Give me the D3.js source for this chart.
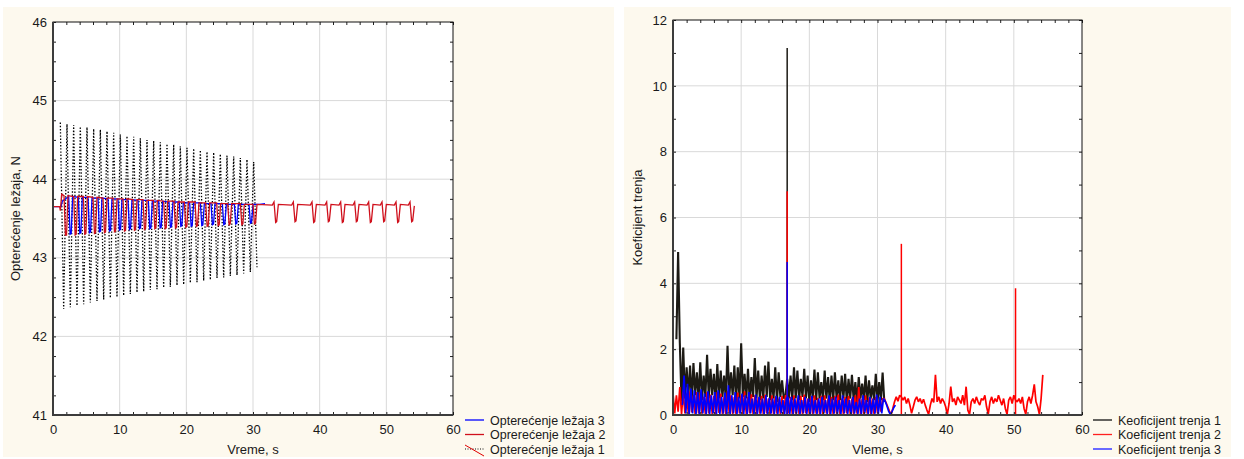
<!DOCTYPE html>
<html>
<head>
<meta charset="utf-8">
<script src="https://cdn.jsdelivr.net/npm/d3@7"></script>
<style>
body { margin: 0; background: #fff; }
svg text { font-family: "Liberation Sans", Arial, sans-serif; fill: #1a1a1a; }
</style>
</head>
<body>
<svg id="chart" width="1244" height="459"></svg>
<script>
// ---- left panel: bearing load, N ----
// series 1: dotted zigzag, peaks and troughs (one stroke every 0.5 s starting at 1.1 s)
var load1Start = 1.1, load1Step = 0.5;
var load1High = [44.72, 44.70, 44.69, 44.67, 44.66, 44.64, 44.63, 44.61, 44.59, 44.57,
                 44.55, 44.54, 44.52, 44.50, 44.49, 44.47, 44.45, 44.44, 44.42, 44.40,
                 44.39, 44.37, 44.35, 44.34, 44.32, 44.30, 44.29, 44.27, 44.25, 44.22];
var load1Low  = [42.35, 42.37, 42.39, 42.41, 42.43, 42.45, 42.47, 42.49, 42.50, 42.52,
                 42.54, 42.56, 42.57, 42.59, 42.60, 42.62, 42.63, 42.65, 42.66, 42.68,
                 42.69, 42.71, 42.72, 42.74, 42.75, 42.77, 42.78, 42.80, 42.82, 42.88];

// series 2 (red): [time, load]
var load2 = [[0.0,43.65],[1.0,43.65],[1.1,43.6],[1.3,43.81],
  [1.65,43.79],[1.87,43.29],[2.03,43.29],[2.25,43.79],
  [3.1,43.78],[3.32,43.29],[3.48,43.3],[3.7,43.78],
  [4.55,43.78],[4.77,43.3],[4.93,43.31],[5.15,43.78],
  [6.0,43.77],[6.22,43.31],[6.38,43.32],[6.6,43.77],
  [7.5,43.76],[7.72,43.32],[7.88,43.33],[8.1,43.76],
  [9.0,43.76],[9.22,43.33],[9.38,43.34],[9.6,43.75],
  [10.5,43.75],[10.72,43.34],[10.88,43.35],[11.1,43.75],
  [12.0,43.74],[12.22,43.35],[12.38,43.36],[12.6,43.74],
  [13.5,43.74],[13.72,43.36],[13.88,43.37],[14.1,43.73],
  [15.05,43.73],[15.27,43.37],[15.43,43.38],[15.65,43.73],
  [16.6,43.72],[16.82,43.37],[16.98,43.38],[17.2,43.72],
  [18.15,43.72],[18.37,43.38],[18.53,43.39],[18.75,43.71],
  [19.7,43.71],[19.92,43.39],[20.08,43.4],[20.3,43.71],
  [21.3,43.71],[21.52,43.4],[21.68,43.41],[21.9,43.7],
  [22.9,43.7],[23.12,43.4],[23.28,43.41],[23.5,43.7],
  [24.55,43.7],[24.77,43.41],[24.93,43.42],[25.15,43.69],
  [26.2,43.69],[26.42,43.42],[26.58,43.43],[26.8,43.69],
  [28.1,43.69],[28.32,43.42],[28.48,43.43],[28.7,43.68],
  [30.0,43.68],[30.22,43.43],[30.38,43.44],[30.6,43.68],
  [32.9,43.67],[33.15,43.71],[33.4,43.45],[33.55,43.46],[33.8,43.68],
  [35.8,43.67],[36.05,43.71],[36.3,43.46],[36.45,43.47],[36.7,43.68],
  [38.6,43.67],[38.85,43.71],[39.1,43.45],[39.25,43.46],[39.5,43.68],
  [40.8,43.67],[41.05,43.71],[41.3,43.46],[41.45,43.47],[41.7,43.68],
  [42.9,43.67],[43.15,43.71],[43.4,43.45],[43.55,43.46],[43.8,43.68],
  [45.0,43.67],[45.25,43.71],[45.5,43.46],[45.65,43.47],[45.9,43.68],
  [47.1,43.67],[47.35,43.71],[47.6,43.45],[47.75,43.46],[48.0,43.68],
  [49.1,43.67],[49.35,43.71],[49.6,43.46],[49.75,43.47],[50.0,43.68],
  [51.2,43.67],[51.45,43.71],[51.7,43.45],[51.85,43.46],[52.1,43.68],
  [53.3,43.67],[53.55,43.71],[53.8,43.46],[53.95,43.47],[54.2,43.66]];

// series 3 (blue): [time, load]
var load3 = [[0.0,43.65],[1.2,43.65],[1.4,43.72],
  [2.35,43.78],[2.57,43.3],[2.73,43.31],[2.95,43.78],
  [3.8,43.77],[4.02,43.31],[4.18,43.32],[4.4,43.77],
  [5.25,43.77],[5.47,43.32],[5.63,43.33],[5.85,43.76],
  [6.75,43.76],[6.97,43.33],[7.13,43.34],[7.35,43.76],
  [8.25,43.75],[8.47,43.34],[8.63,43.35],[8.85,43.75],
  [9.75,43.75],[9.97,43.35],[10.13,43.36],[10.35,43.74],
  [11.25,43.74],[11.47,43.36],[11.63,43.37],[11.85,43.74],
  [12.75,43.73],[12.97,43.37],[13.13,43.38],[13.35,43.73],
  [14.3,43.73],[14.52,43.37],[14.68,43.38],[14.9,43.72],
  [15.85,43.72],[16.07,43.38],[16.23,43.39],[16.45,43.72],
  [17.4,43.71],[17.62,43.39],[17.78,43.4],[18.0,43.71],
  [18.95,43.71],[19.17,43.4],[19.33,43.41],[19.55,43.7],
  [20.5,43.7],[20.72,43.4],[20.88,43.41],[21.1,43.7],
  [22.1,43.7],[22.32,43.41],[22.48,43.42],[22.7,43.69],
  [23.7,43.69],[23.92,43.42],[24.08,43.43],[24.3,43.69],
  [25.4,43.69],[25.62,43.42],[25.78,43.43],[26.0,43.68],
  [27.2,43.68],[27.42,43.43],[27.58,43.44],[27.8,43.68],
  [29.4,43.68],[29.62,43.44],[29.78,43.45],[30.0,43.68],
  [31.0,43.68],[31.8,43.69]];

// ---- right panel: friction coefficient (sampled every 0.25 s) ----
var frictionStep = 0.25;
var friction1Start = 0.5;
var friction1 = [2.3, 4.95, 2.2, 0.4, 2.05, 0.5, 1.45, 0.55, 1.5, 0.45, 1.58, 0.6,
  1.3, 0.5, 1.6, 0.45, 1.2, 0.55, 1.83, 0.5, 1.4, 0.6, 1.25, 0.45,
  1.55, 0.5, 1.35, 0.55, 1.2, 0.45, 2.1, 0.5, 1.3, 0.6, 1.5, 0.4,
  1.45, 0.5, 2.18, 0.55, 1.25, 0.5, 1.4, 0.45, 1.15, 0.55, 1.73, 0.5,
  1.35, 0.45, 1.2, 0.5, 1.5, 0.55, 1.62, 0.45, 1.1, 0.5, 1.45, 0.4,
  1.3, 0.55, 1.05, 0.5, 0.6, 1.1, 0.5, 1.2, 0.45, 1.45, 0.5, 1.35,
  0.45, 1.1, 0.55, 1.4, 0.5, 1.2, 0.4, 1.05, 0.5, 1.38, 0.45, 1.3,
  0.5, 1.0, 0.45, 1.35, 0.5, 1.15, 0.4, 1.2, 0.45, 1.3, 0.5, 1.05,
  0.45, 1.2, 0.5, 1.25, 0.4, 1.1, 0.5, 1.22, 0.45, 1.0, 0.4, 1.15,
  0.5, 0.95, 0.45, 1.2, 0.4, 1.05, 0.5, 0.9, 0.45, 1.25, 0.4, 1.0,
  0.45, 1.29, 0.4];
var friction1Peaks = [[16.75, 11.15]];

var friction2Start = 0;
var friction2 = [0.66, 0.05, 0.6, 0.1, 0.85, 0.02, 0.7, 0.05, 0.65, 0.03, 0.72, 0.08,
  0.6, 0.02, 0.7, 0.05, 0.68, 0.04, 0.55, 0.02, 0.7, 0.05, 0.62, 0.03,
  0.58, 0.02, 0.7, 0.06, 0.65, 0.03, 0.55, 0.02, 0.72, 0.05, 0.6, 0.03,
  0.55, 0.02, 0.68, 0.05, 0.6, 0.03, 0.72, 0.02, 0.55, 0.05, 0.63, 0.03,
  0.6, 0.02, 0.52, 0.04, 0.58, 0.03, 0.62, 0.05, 0.5, 0.02, 0.6, 0.03,
  0.55, 0.04, 0.5, 0.02, 0.58, 0.03, 0.6, 0.5, 0.05, 0.55, 0.02, 0.6,
  0.04, 0.5, 0.03, 0.58, 0.02, 0.62, 0.05, 0.5, 0.03, 0.55, 0.02, 0.6,
  0.04, 0.52, 0.03, 0.58, 0.02, 0.6, 0.05, 0.5, 0.03, 0.55, 0.02, 0.58,
  0.04, 0.62, 0.03, 0.5, 0.02, 0.55, 0.05, 0.58, 0.03, 0.5, 0.02, 0.6,
  0.04, 0.85, 0.03, 0.48, 0.02, 0.6, 0.04, 0.52, 0.03, 0.5, 0.02, 0.55,
  0.05, 0.45, 0.1, 0.5, 0.5, 0.38, 0.25, 0.12, 0.02, 0.2, 0.4, 0.55,
  0.42, 0.6, 0.55, 0.45, 0.55, 0.35, 0.5, 0.3, 0.05, 0.25, 0.45, 0.55,
  0.4, 0.5, 0.35, 0.48, 0.3, 0.15, 0.02, 0.3, 0.5, 0.38, 1.22, 0.4,
  0.55, 0.35, 0.5, 0.4, 0.25, 0.02, 0.35, 0.86, 0.4, 0.5, 0.3, 0.55,
  0.45, 0.35, 0.6, 0.3, 0.86, 0.15, 0.02, 0.4, 0.5, 0.35, 0.55, 0.4,
  0.3, 0.5, 0.45, 0.6, 0.25, 0.03, 0.4, 0.55, 0.35, 0.5, 0.4, 0.6,
  0.45, 0.3, 0.5, 0.2, 0.02, 0.45, 0.55, 0.35, 0.6, 0.45, 0.4, 0.5,
  0.35, 0.55, 0.2, 0.02, 0.4, 0.55, 0.35, 0.6, 0.93, 0.4, 0.25, 0.02,
  0.5, 1.22];
var friction2Peaks = [[16.75, 6.8], [33.5, 5.2], [50.25, 3.85]];

var friction3Start = 1.375;
var friction3 = [0.3, 1.2, 0.05, 0.95, 0.02, 0.8, 0.05, 0.75, 0.03, 0.7, 0.02, 0.78,
  0.05, 0.65, 0.02, 0.72, 0.03, 0.6, 0.05, 0.7, 0.02, 0.75, 0.03, 0.55,
  0.04, 0.68, 0.02, 0.9, 0.03, 0.6, 0.05, 0.7, 0.02, 0.55, 0.04, 0.65,
  0.03, 0.6, 0.02, 0.7, 0.05, 0.5, 0.03, 0.62, 0.02, 0.55, 0.04, 0.5,
  0.03, 0.6, 0.02, 0.52, 0.04, 0.5, 0.03, 0.58, 0.02, 0.55, 0.05, 0.45,
  0.03, 0.5, 0.55, 0.02, 0.55, 0.03, 0.5, 0.04, 0.6, 0.02, 0.45, 0.05,
  0.55, 0.03, 0.5, 0.02, 0.58, 0.04, 0.45, 0.03, 0.5, 0.02, 0.55, 0.05,
  0.45, 0.03, 0.6, 0.02, 0.5, 0.04, 0.55, 0.03, 0.45, 0.02, 0.6, 0.05,
  0.5, 0.03, 0.45, 0.02, 0.55, 0.04, 0.4, 0.03, 0.5, 0.02, 0.6, 0.05,
  0.45, 0.03, 0.55, 0.02, 0.5, 0.04, 0.62, 0.03, 0.55, 0.05, 0.5, 0.42,
  0.28, 0.12, 0.02, 0.1, 0.22, 0.3];
var friction3Peaks = [[16.75, 4.65]];

var xTicks = [0, 10, 20, 30, 40, 50, 60];
var loadTicks = [41, 42, 43, 44, 45, 46];
var frictionTicks = [0, 2, 4, 6, 8, 10, 12];

var svg = d3.select('#chart');

function sampled(start, values) {
    return values.map(function (v, i) { return [start + i * frictionStep, v]; });
}

function drawFrame(p) {
    var g = svg.append('g');
    g.append('rect')
        .attr('x', p.bg[0]).attr('y', 7)
        .attr('width', p.bg[1] - p.bg[0]).attr('height', 450)
        .attr('fill', '#fdf9ee');
    g.append('rect')
        .attr('x', p.x.range()[0]).attr('y', p.y.range()[1])
        .attr('width', p.x.range()[1] - p.x.range()[0])
        .attr('height', p.y.range()[0] - p.y.range()[1])
        .attr('fill', '#fff');

    // grid
    g.append('g').selectAll('line').data(p.xTicks.slice(1, -1)).join('line')
        .attr('x1', p.x).attr('x2', p.x)
        .attr('y1', p.y.range()[1]).attr('y2', p.y.range()[0])
        .attr('stroke', '#d9d9d9');
    g.append('g').selectAll('line').data(p.yTicks.slice(1, -1)).join('line')
        .attr('y1', p.y).attr('y2', p.y)
        .attr('x1', p.x.range()[0]).attr('x2', p.x.range()[1])
        .attr('stroke', '#d9d9d9');

    p.plot = svg.append('g').attr('clip-path', 'url(#' + p.id + ')');
    svg.append('clipPath').attr('id', p.id).append('rect')
        .attr('x', p.x.range()[0]).attr('y', p.y.range()[1])
        .attr('width', p.x.range()[1] - p.x.range()[0])
        .attr('height', p.y.range()[0] - p.y.range()[1]);
}

function drawAxes(p) {
    var x0 = p.x.range()[0], x1 = p.x.range()[1];
    var y0 = p.y.range()[0], y1 = p.y.range()[1];
    var g = svg.append('g');
    var xMinor = d3.range(0, 61, 2), yMinor = d3.range(p.y.domain()[0], p.y.domain()[1] + 0.001, p.yMinor);

    // inner ticks on all four sides
    g.append('g').attr('transform', 'translate(0,' + y0 + ')')
        .call(d3.axisBottom(p.x).tickValues(xMinor).tickSize(-3).tickFormat(''));
    g.append('g').attr('transform', 'translate(0,' + y1 + ')')
        .call(d3.axisTop(p.x).tickValues(xMinor).tickSize(-3).tickFormat(''));
    g.append('g').attr('transform', 'translate(' + x0 + ',0)')
        .call(d3.axisLeft(p.y).tickValues(yMinor).tickSize(-3).tickFormat(''));
    g.append('g').attr('transform', 'translate(' + x1 + ',0)')
        .call(d3.axisRight(p.y).tickValues(yMinor).tickSize(-3).tickFormat(''));
    g.selectAll('.domain').remove();
    g.selectAll('.tick line').attr('stroke', '#222');

    g.append('rect').attr('x', x0).attr('y', y1)
        .attr('width', x1 - x0).attr('height', y0 - y1)
        .attr('fill', 'none').attr('stroke', '#111').attr('stroke-width', 1);
    g.append('line').attr('x1', x0).attr('x2', x0).attr('y1', y1).attr('y2', y0 + 1)
        .attr('stroke', '#3c3c3c').attr('stroke-width', 2);
    g.append('line').attr('x1', x0 - 1).attr('x2', x1).attr('y1', y0).attr('y2', y0)
        .attr('stroke', '#3c3c3c').attr('stroke-width', 2);

    // labels
    var xa = svg.append('g').attr('transform', 'translate(0,' + y0 + ')')
        .call(d3.axisBottom(p.x).tickValues(p.xTicks).tickSize(0).tickPadding(10)
            .tickFormat(d3.format('d')));
    var ya = svg.append('g').attr('transform', 'translate(' + x0 + ',0)')
        .call(d3.axisLeft(p.y).tickValues(p.yTicks).tickSize(0).tickPadding(6)
            .tickFormat(d3.format('d')));
    [xa, ya].forEach(function (a) {
        a.select('.domain').remove();
        a.selectAll('text').style('font-size', '13px').attr('fill', '#1a1a1a')
            .style('font-family', '"Liberation Sans", Arial, sans-serif');
    });

    svg.append('text')
        .attr('x', (x0 + x1) / 2).attr('y', 454)
        .attr('text-anchor', 'middle').style('font-size', '13px')
        .text(p.xTitle);
    svg.append('text')
        .attr('transform', 'translate(' + p.yTitleX + ',' + ((y0 + y1) / 2) + ') rotate(-90)')
        .attr('text-anchor', 'middle').style('font-size', '13px')
        .text(p.yTitle);
}

function drawLegend(p) {
    var g = svg.append('g');
    p.legend.forEach(function (d, i) {
        var y = 420 + i * 14.5;
        var l = g.append('line')
            .attr('x1', p.legendX).attr('x2', p.legendX + 19)
            .attr('y1', y).attr('y2', y)
            .attr('stroke', d.color).attr('stroke-width', d.width || 1.3);
        if (d.dash) l.attr('stroke-dasharray', d.dash);
        if (d.slash) {
            g.append('line')
                .attr('x1', p.legendX).attr('x2', p.legendX + 19)
                .attr('y1', y - 4).attr('y2', y + 7)
                .attr('stroke', '#e00000').attr('stroke-width', 1);
        }
        g.append('text')
            .attr('x', p.legendX + 25).attr('y', y + 4.5)
            .style('font-size', '12.5px')
            .text(d.name);
    });
}

// ---- left panel ----
var left = {
    id: 'clipLeft',
    bg: [3, 614],
    x: d3.scaleLinear().domain([0, 60]).range([53, 453]),
    y: d3.scaleLinear().domain([41, 46]).range([415, 22]),
    xTicks: xTicks, yTicks: loadTicks, yMinor: 0.25,
    xTitle: 'Vreme, s', yTitle: 'Opterećenje ležaja, N', yTitleX: 20,
    legendX: 465,
    legend: [
        { name: 'Opterećenje ležaja 3', color: '#0000ff' },
        { name: 'Oprerećenje ležaja 2', color: '#d0101c' },
        { name: 'Opterećenje ležaja 1', color: '#111', dash: '1,1.5', width: 1, slash: true }
    ]
};
drawFrame(left);

var load1 = [];
load1High.forEach(function (h, i) {
    load1.push([load1Start + 2 * i * load1Step, h]);
    load1.push([load1Start + (2 * i + 1) * load1Step, load1Low[i]]);
});

var lineL = d3.line().x(function (d) { return left.x(d[0]); }).y(function (d) { return left.y(d[1]); });
left.plot.append('path').datum(load1).attr('d', lineL)
    .attr('fill', 'none').attr('stroke', '#000').attr('stroke-width', 1.3)
    .attr('stroke-dasharray', '1.4,1.8');
left.plot.append('path').datum(load3).attr('d', lineL)
    .attr('fill', 'none').attr('stroke', '#0000ff').attr('stroke-width', 1.3);
left.plot.append('path').datum(load2).attr('d', lineL)
    .attr('fill', 'none').attr('stroke', '#d0101c').attr('stroke-width', 1.3);
drawAxes(left);
drawLegend(left);

// ---- right panel ----
var right = {
    id: 'clipRight',
    bg: [624, 1231],
    x: d3.scaleLinear().domain([0, 60]).range([673, 1082]),
    y: d3.scaleLinear().domain([0, 12]).range([415, 20]),
    xTicks: xTicks, yTicks: frictionTicks, yMinor: 1,
    xTitle: 'Vleme, s', yTitle: 'Koeficijent trenja', yTitleX: 642,
    legendX: 1093,
    legend: [
        { name: 'Keoficijent trenja 1', color: '#111' },
        { name: 'Koeficijent trenja 2', color: '#ff2020' },
        { name: 'Koeficijent trenja 3', color: '#6a6aff', width: 2 }
    ]
};
drawFrame(right);

var lineR = d3.line().x(function (d) { return right.x(d[0]); }).y(function (d) { return right.y(d[1]); });
function drawFriction(start, values, peaks, color, width) {
    right.plot.append('path').datum(sampled(start, values)).attr('d', lineR)
        .attr('fill', 'none').attr('stroke', color).attr('stroke-width', width)
        .attr('stroke-linejoin', 'bevel');
    // isolated one-sample spikes
    right.plot.append('g').selectAll('line').data(peaks).join('line')
        .attr('x1', function (d) { return right.x(d[0]); })
        .attr('x2', function (d) { return right.x(d[0]); })
        .attr('y1', right.y(0))
        .attr('y2', function (d) { return right.y(d[1]); })
        .attr('stroke', color).attr('stroke-width', 1.5);
}
drawFriction(friction1Start, friction1, friction1Peaks, '#1c1a14', 2.1);
drawFriction(friction2Start, friction2, friction2Peaks, '#ff0000', 1.7);
drawFriction(friction3Start, friction3, friction3Peaks, '#0000ff', 1.7);
drawAxes(right);
drawLegend(right);
</script>
</body>
</html>
